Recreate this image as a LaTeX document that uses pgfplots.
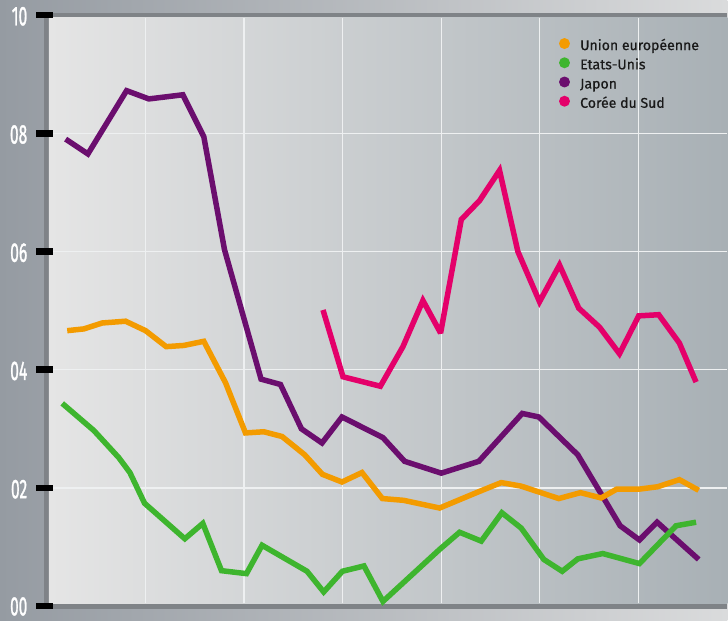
\documentclass[border=0pt]{standalone}
\usepackage{fontspec}
\setmainfont{Fira Sans}
\newfontfamily\legfont{Fira Sans}[FakeBold=0.6]
\newfontfamily\tickfont{Fira Sans}[FakeBold=1.5]
\usepackage{pgfplots}
\pgfplotsset{compat=1.18}
\definecolor{eu}{RGB}{243,155,0}
\definecolor{us}{RGB}{62,181,46}
\definecolor{jp}{RGB}{107,14,110}
\definecolor{kr}{RGB}{228,0,106}
\definecolor{outerL}{RGB}{149,155,162}
\definecolor{outerR}{RGB}{218,219,220}
\definecolor{frame}{RGB}{127,131,135}
\definecolor{areaL}{RGB}{229,229,229}
\definecolor{areaM}{RGB}{203,207,210}
\definecolor{areaR}{RGB}{168,176,181}
\definecolor{gridc}{RGB}{238,240,241}
\definecolor{legtext}{RGB}{25,25,25}
\begin{document}
\begin{tikzpicture}
\begin{axis}[
  scale only axis, width=679pt, height=591.7pt,
  xmin=49, xmax=728, ymin=0, ymax=10,
  axis lines=none, clip=false,
  reverse legend,
  legend cell align=left,
  legend image code/.code={\path[draw=none] (0pt,0pt) -- (20.5pt,0pt); \fill[#1, draw=none] (5.5pt,2.8pt) circle (5.5pt);},
  legend style={at={(axis cs:559.5,9.61)}, anchor=north west, draw=none, fill=none,
    inner sep=0pt, outer sep=0pt, row sep=3pt, column sep=0pt,
    font=\legfont\fontsize{14.1}{15}\selectfont,
    nodes={inner sep=0.7pt, text height=11pt, text depth=3.5pt, text=legtext}},
  every axis plot/.append style={line width=5.5pt, line join=miter, miter limit=3, no marks},
]
% backgrounds
\fill[left color=outerL, right color=outerR] (axis cs:0,-0.2417) rectangle (axis cs:728,10.2535);
\fill[frame] (axis cs:44,-0.044) rectangle (axis cs:728,10.034);
\fill[left color=areaL, middle color=areaM, right color=areaR] (axis cs:49,0.0456) rectangle (axis cs:728,9.949);
% grid
\pgfplotsinvokeforeach{2,4,6,8}{\draw[gridc, line width=1.3pt] (axis cs:49,#1) -- (axis cs:728,#1);}
\pgfplotsinvokeforeach{145.7,244.2,342.9,441.6,540.3,639}{\draw[gridc, line width=1.3pt] (axis cs:#1,0.0456) -- (axis cs:#1,9.949);}
% tick bars and labels
\pgfplotsinvokeforeach{0,2,4,6,8,10}{\fill[black] (axis cs:36,#1-0.056) rectangle (axis cs:53,#1+0.056);}
\pgfplotsinvokeforeach{2,4,6,8}{\node[anchor=east, text=white, inner sep=0pt, yshift=-1.3pt] at (axis cs:27.5,#1) {\scalebox{0.58}[1]{\tickfont\fontsize{27}{28}\selectfont 0#1}};}
\node[anchor=east, text=white, inner sep=0pt, yshift=-0.3pt] at (axis cs:27.5,0) {\scalebox{0.58}[1]{\tickfont\fontsize{26.5}{28}\selectfont 00}};
\node[anchor=east, text=white, inner sep=0pt, yshift=-1.3pt] at (axis cs:27.5,10) {\scalebox{0.58}[1]{\tickfont\fontsize{27}{28}\selectfont 10}};

\addplot[color=kr] coordinates {
(323.3,5.01) (343.3,3.88) (380.7,3.72) (403.3,4.39) (423.3,5.17) (441,4.62)
(461.7,6.54) (480,6.86) (500,7.37) (518.3,6.00) (540,5.15) (560,5.77)
(579.3,5.04) (600,4.72) (620,4.27) (639.3,4.91) (659.3,4.93) (680,4.45) (696.7,3.79)};
\addlegendentry{Corée du Sud}
\addplot[color=jp] coordinates {
(65.7,7.90) (88,7.65) (126.7,8.72) (149,8.58) (183,8.65) (204,7.94) (224.7,6.03)
(261.3,3.84) (280.7,3.75) (301.7,3.00) (322.3,2.76) (342.3,3.20) (383.3,2.85)
(405,2.45) (441.7,2.25) (479.3,2.45) (522.7,3.26) (539.3,3.20) (578.3,2.56)
(620.7,1.36) (640,1.12) (657.7,1.42) (699.3,0.79)};
\addlegendentry{Japon}
\addplot[color=us] coordinates {
(62.3,3.43) (94,2.97) (119,2.51) (130,2.26) (144.7,1.74) (185,1.14) (203,1.40)
(221.7,0.60) (246.7,0.55) (262.3,1.03) (307.3,0.59) (324,0.24) (342.7,0.59)
(364.3,0.68) (383.3,0.08) (440,0.96) (460,1.25) (481.7,1.10) (502.3,1.58)
(521.7,1.32) (544.3,0.79) (562.7,0.59) (578.3,0.80) (603.3,0.89) (640,0.72)
(676.7,1.36) (696.7,1.42)};
\addlegendentry{Etats-Unis}
\addplot[color=eu] coordinates {
(67.3,4.66) (84,4.69) (102.3,4.79) (125.7,4.82) (145.7,4.66) (166.3,4.39) (184,4.41)
(204,4.48) (225.7,3.78) (245.7,2.93) (264,2.95) (282.3,2.87) (305,2.56) (322.7,2.23)
(342.3,2.10) (362.3,2.26) (382.7,1.82) (404,1.79) (440,1.66) (478.3,1.93)
(501.7,2.09) (521.7,2.03) (559.3,1.82) (581,1.92) (601.7,1.83) (617.3,1.98)
(640,1.98) (658.3,2.02) (680,2.14) (699.3,1.96)};
\addlegendentry{Union européenne}
\end{axis}
\end{tikzpicture}
\end{document}
